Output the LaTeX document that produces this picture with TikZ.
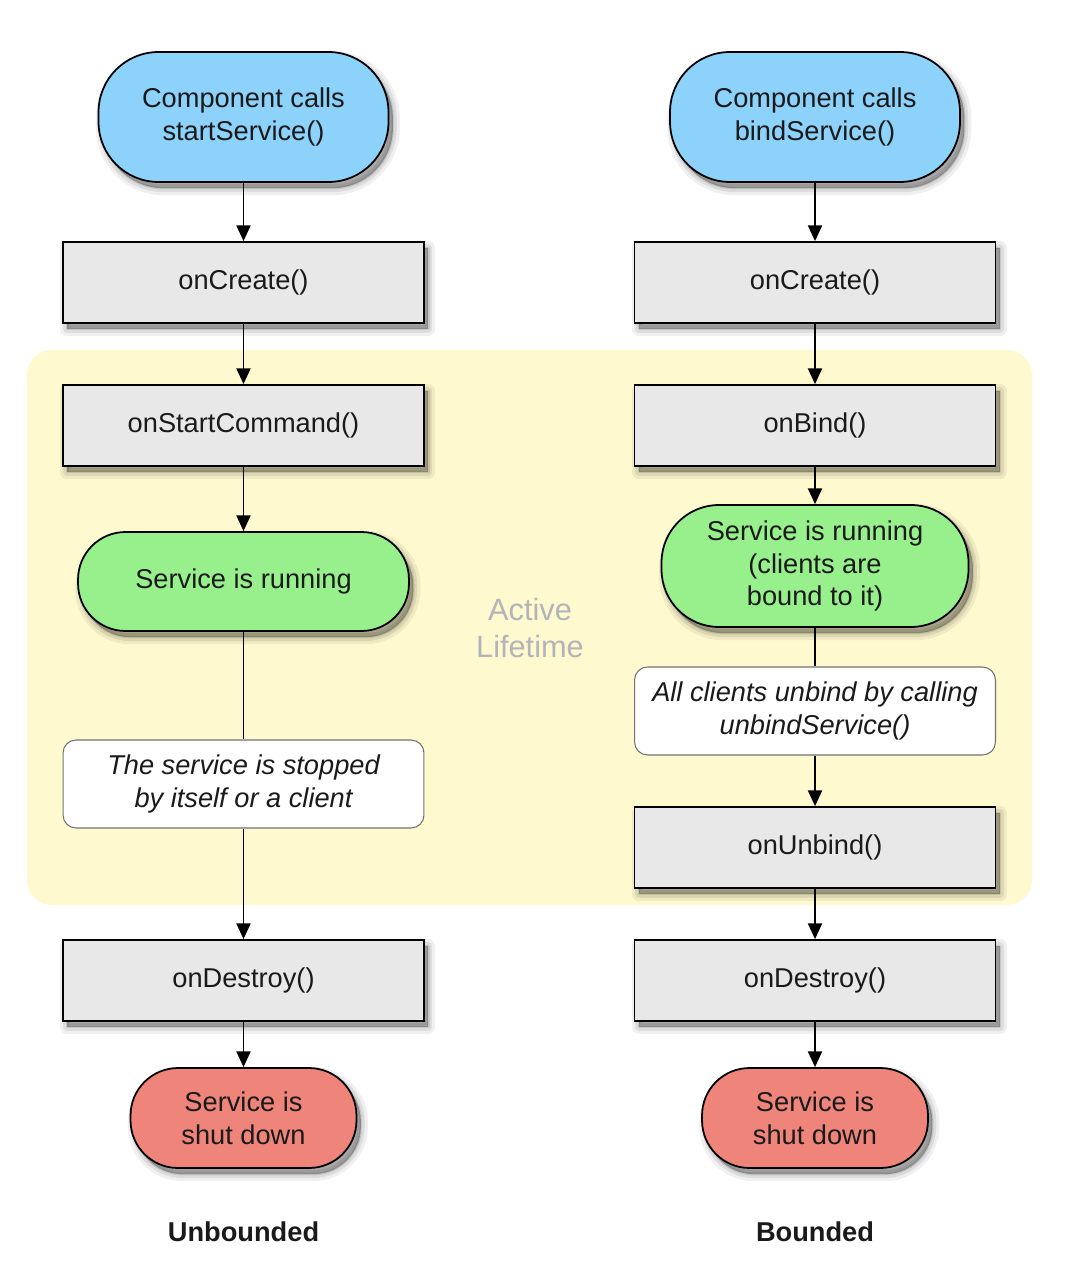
\documentclass[tikz,border=0pt]{standalone}
\usepackage{fontspec}
\setmainfont{Liberation Sans}
\usetikzlibrary{arrows.meta,shadows}

\definecolor{startblue}{HTML}{8CD2FA}
\definecolor{rungreen}{HTML}{98F08C}
\definecolor{stopred}{HTML}{EE847A}
\definecolor{stepgray}{HTML}{E8E8E8}
\definecolor{lifeyellow}{HTML}{FEF9CF}
\definecolor{lifetext}{HTML}{B4B4B8}
\definecolor{inktext}{HTML}{1A1A1A}

\tikzset{
  % soft drop shadow built from a few translucent layers
  softshade/.style={
    general shadow={shadow xshift=2.5pt, shadow yshift=-3.5pt,
      draw=black, line width=8pt, line join=round, draw opacity=0.06,
      fill=none},
    general shadow={shadow xshift=2.5pt, shadow yshift=-3.5pt,
      draw=black, line width=4.5pt, line join=round, draw opacity=0.08,
      fill=none},
    general shadow={shadow xshift=2.5pt, shadow yshift=-3.5pt,
      draw=black, line width=1.5pt, line join=round, draw opacity=0.1,
      fill=black, fill opacity=0.3}},
  base/.style={draw=black, line width=1pt, align=center, text=inktext,
    font=\fontsize{15.5}{18.6}\selectfont, inner sep=0pt, softshade},
  startnode/.style={base, fill=startblue, minimum width=5.8cm,
    minimum height=2.6cm, rounded corners=1.2cm},
  stepbox/.style={base, fill=stepgray, minimum width=7.22cm,
    minimum height=1.62cm},
  runnode/.style={base, fill=rungreen, rounded corners=0.95cm},
  stopnode/.style={base, fill=stopred, minimum width=4.52cm,
    minimum height=2cm, rounded corners=0.95cm},
  notebox/.style={draw=black!55, line width=0.6pt, fill=white, align=center,
    text=inktext, font=\fontsize{15.5}{18.6}\selectfont\itshape,
    inner sep=0pt, minimum width=7.22cm, minimum height=1.76cm,
    rounded corners=0.26cm},
  flow/.style={line width=1.1pt, -{Triangle[length=9pt,width=8pt]}},
  plain/.style={line width=1.1pt},
  caption/.style={font=\fontsize{15.5}{18.6}\selectfont\bfseries, text=inktext}
}

\begin{document}
\begin{tikzpicture}[x=0.02cm, y=-0.02cm]
  \useasboundingbox (0,0) rectangle (1066,1266);

  % active lifetime region
  \fill[lifeyellow, rounded corners=0.5cm] (27,350) rectangle (1032,905);
  \node[text=lifetext, align=center, font=\fontsize{17.5}{21}\selectfont]
    (life) at (530,628) {Active\\Lifetime};

  % started service (left column)
  \node[startnode] (startL) at (243.5,117) {Component calls\\startService()};
  \node[stepbox] (createL) at (243.5,282.5) {onCreate()};
  \node[stepbox] (command) at (243.5,425.5) {onStartCommand()};
  \node[runnode, minimum width=6.62cm, minimum height=1.98cm]
    (runL) at (243.5,581.5) {Service is running};
  \node[notebox] (stopped) at (243.5,784)
    {The service is stopped\\by itself or a client};
  \node[stepbox] (destroyL) at (243.5,980.5) {onDestroy()};
  \node[stopnode] (downL) at (243.5,1118) {Service is\\shut down};
  \node[caption] (unbounded) at (243.5,1232) {Unbounded};

  % bound service (right column)
  \node[startnode] (startR) at (815,117) {Component calls\\bindService()};
  \node[stepbox] (createR) at (815,282.5) {onCreate()};
  \node[stepbox] (bind) at (815,425.5) {onBind()};
  \node[runnode, minimum width=6.14cm, minimum height=2.44cm,
    rounded corners=1.15cm]
    (runR) at (815,566) {Service is running\\(clients are\\bound to it)};
  \node[notebox] (unbindall) at (815,711)
    {All clients unbind by calling\\unbindService()};
  \node[stepbox] (unbind) at (815,847.5) {onUnbind()};
  \node[stepbox] (destroyR) at (815,980.5) {onDestroy()};
  \node[stopnode] (downR) at (815,1118) {Service is\\shut down};
  \node[caption] (bounded) at (815,1232) {Bounded};

  % connectors, left
  \draw[flow] (startL) -- (createL);
  \draw[flow] (createL) -- (command);
  \draw[flow] (command) -- (runL);
  \draw[plain] (runL) -- (stopped);
  \draw[flow] (stopped) -- (destroyL);
  \draw[flow] (destroyL) -- (downL);

  % connectors, right
  \draw[flow] (startR) -- (createR);
  \draw[flow] (createR) -- (bind);
  \draw[flow] (bind) -- (runR);
  \draw[plain] (runR) -- (unbindall);
  \draw[flow] (unbindall) -- (unbind);
  \draw[flow] (unbind) -- (destroyR);
  \draw[flow] (destroyR) -- (downR);
\end{tikzpicture}
\end{document}
